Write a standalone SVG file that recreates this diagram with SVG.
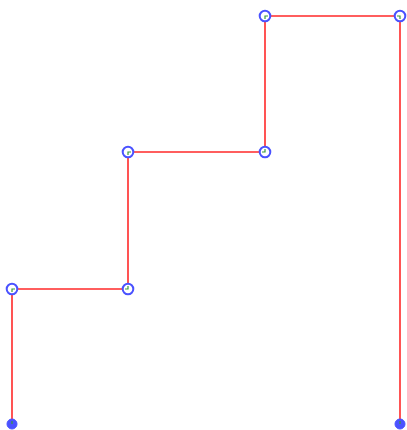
<svg xmlns="http://www.w3.org/2000/svg" width="407" height="430" viewBox="0 0 407 430">
<style>
.edge{fill:none;stroke:#ff2a2a;stroke-width:1.6}
.pt{fill:#fff;stroke:#4a52ff;stroke-width:2}
.end{fill:#4a52ff;stroke:#4a52ff;stroke-width:1}
.tick{fill:none;stroke:#3a9a3a;stroke-width:1.2}
</style>
<rect width="407" height="430" fill="#fff"/>
<g id="connectors">
<path class="edge" d="M12,424 V289 H128 V152 H265 V16 H400 V424"/>
</g>
<g id="n1"><circle class="end" cx="12" cy="424" r="5"/><path class="tick" d="M12,421 V424"/></g>
<g id="n2"><circle class="pt" cx="12" cy="289" r="5.3"/><path class="tick" d="M12,292 V289 H15"/></g>
<g id="n3"><circle class="pt" cx="128" cy="289" r="5.3"/><path class="tick" d="M125,289 H128 V286"/></g>
<g id="n4"><circle class="pt" cx="128" cy="152" r="5.3"/><path class="tick" d="M128,155 V152 H131"/></g>
<g id="n5"><circle class="pt" cx="265" cy="152" r="5.3"/><path class="tick" d="M262,152 H265 V149"/></g>
<g id="n6"><circle class="pt" cx="265" cy="16" r="5.3"/><path class="tick" d="M265,19 V16 H268"/></g>
<g id="n7"><circle class="pt" cx="400" cy="16" r="5.3"/><path class="tick" d="M397,16 H400 V19"/></g>
<g id="n8"><circle class="end" cx="400" cy="424" r="5"/><path class="tick" d="M400,421 V424"/></g>
</svg>
